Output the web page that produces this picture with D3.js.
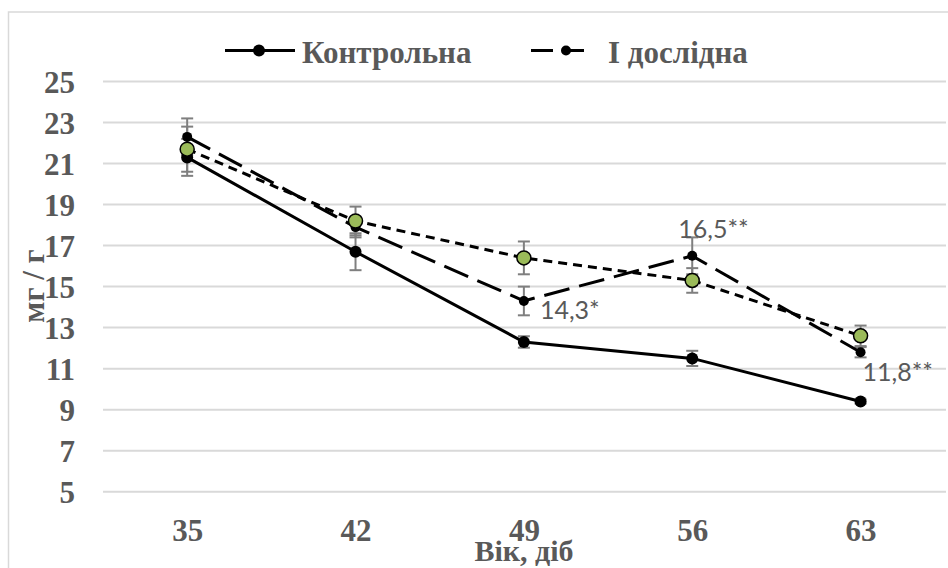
<!DOCTYPE html>
<html><head><meta charset="utf-8">
<script src="https://cdn.jsdelivr.net/npm/d3@7"></script>
<style>body{margin:0;background:#fff}svg{display:block}</style>
</head><body>
<script>
const categories = ["35","42","49","56","63"];
const yTicks = [5,7,9,11,13,15,17,19,21,23,25];
const control = [21.3,16.7,12.3,11.5,9.4];
const controlErr = [0.9,0.9,0.28,0.37,0.1];
const exp1 = [22.3,17.9,14.3,16.5,11.8];
const exp1Err = [0.9,0.5,0.7,0.9,0.25];
const exp2 = [21.7,18.2,16.4,15.3,12.6];
const exp2Err = [1.1,0.7,0.8,0.6,0.5];
const dataLabels = [
  {series:"exp1", index:2, text:"14,3*"},
  {series:"exp1", index:3, text:"16,5**"},
  {series:"exp1", index:4, text:"11,8**"}
];
const legendNames = ["Контрольна","І дослідна"];
const xTitle = "Вік, діб";
const yTitle = "мг / г";

const W=948,H=568;
const svg=d3.select("body").append("svg").attr("width",W).attr("height",H);
const x=d3.scalePoint().domain(categories).range([103,944.75]).padding(0.5);
const y=d3.scaleLinear().domain([5,25]).range([491.7,81.5]);
const grey="#595959", serif="'Liberation Serif','Times New Roman',serif";

svg.append("rect").attr("x",8.5).attr("y",12).attr("width",W+10).attr("height",H+10)
  .attr("fill","#fff").attr("stroke","#d9d9d9").attr("stroke-width",1.5);

// gridlines
svg.append("g").selectAll("line").data(yTicks).join("line")
  .attr("x1",103).attr("x2",946).attr("y1",d=>y(d)).attr("y2",d=>y(d))
  .attr("stroke","#d9d9d9").attr("stroke-width",2);

// y axis
const ya=svg.append("g").attr("transform","translate(75,0)")
  .call(d3.axisLeft(y).tickValues(yTicks).tickSize(0).tickPadding(0));
ya.select(".domain").remove();
ya.selectAll("text").attr("font-family",serif).attr("font-weight","bold")
  .attr("font-size",31).attr("fill",grey).attr("dy","0.35em");

// x axis
const xa=svg.append("g").attr("transform","translate(0,519)")
  .call(d3.axisBottom(x).tickSize(0).tickPadding(0));
xa.select(".domain").remove();
xa.selectAll("text").attr("font-family",serif).attr("font-weight","bold")
  .attr("font-size",31).attr("fill",grey).attr("dy","0.71em");

svg.append("text").attr("x",524).attr("y",561).attr("text-anchor","middle")
  .attr("font-family",serif).attr("font-weight","bold").attr("font-size",30).attr("fill",grey).text(xTitle);
svg.append("text").attr("transform","translate(44,286) rotate(-90)").attr("text-anchor","middle")
  .attr("font-family",serif).attr("font-weight","bold").attr("font-size",31).attr("fill",grey).text(yTitle);

const series=[
  {key:"control",vals:control,err:controlErr,dash:null,r:6,fill:"#000"},
  {key:"exp1",vals:exp1,err:exp1Err,dash:"26,10",r:5,fill:"#000"},
  {key:"exp2",vals:exp2,err:exp2Err,dash:"9,6",r:7,fill:"#9bbb59"}
];
const line=d3.line().x((d,i)=>x(categories[i])).y(d=>y(d));
// error bars
series.forEach(s=>{
  const g=svg.append("g").attr("stroke","#7f7f7f").attr("stroke-width",2);
  s.vals.forEach((v,i)=>{
    const cx=x(categories[i]);
    g.append("line").attr("x1",cx).attr("x2",cx).attr("y1",y(v-s.err[i])).attr("y2",y(v+s.err[i]));
    [v-s.err[i],v+s.err[i]].forEach(e=>g.append("line").attr("x1",cx-6).attr("x2",cx+6).attr("y1",y(e)).attr("y2",y(e)));
  });
});
series.forEach(s=>{
  svg.append("path").datum(s.vals).attr("d",line).attr("fill","none").attr("stroke","#000")
    .attr("stroke-width",3).attr("stroke-dasharray",s.dash);
});
series.forEach(s=>{
  svg.append("g").selectAll("circle").data(s.vals).join("circle")
    .attr("cx",(d,i)=>x(categories[i])).attr("cy",d=>y(d)).attr("r",s.r)
    .attr("fill",s.fill).attr("stroke","#000").attr("stroke-width",s.key==="exp2"?1.5:0);
});
// data labels
const lblOff={2:[16,18,"start"],3:[-14,-18,"start"],4:[2,29,"start"]};
const sMap={control,exp1,exp2};
dataLabels.forEach(l=>{
  const o=lblOff[l.index];
  svg.append("text").attr("x",x(categories[l.index])+o[0]).attr("y",y(sMap[l.series][l.index])+o[1])
    .attr("text-anchor",o[2]).attr("font-family","Lato,'Open Sans',sans-serif").attr("font-size",25)
    .attr("fill",grey).text(l.text);
});
// legend
const leg=[{x1:225,x2:295,mx:259,dash:null,r:6,tx:302},{x1:531,x2:593,mx:566,dash:"22,9",r:5,tx:608}];
leg.forEach((L,i)=>{
  svg.append("line").attr("x1",L.x1).attr("x2",L.x2).attr("y1",50.5).attr("y2",50.5)
    .attr("stroke","#000").attr("stroke-width",3).attr("stroke-dasharray",L.dash);
  svg.append("circle").attr("cx",L.mx).attr("cy",50.5).attr("r",L.r).attr("fill","#000");
  svg.append("text").attr("x",L.tx).attr("y",63).attr("font-family",serif).attr("font-weight","bold")
    .attr("font-size",31).attr("fill",grey).text(legendNames[i]);
});
</script>
</body></html>
